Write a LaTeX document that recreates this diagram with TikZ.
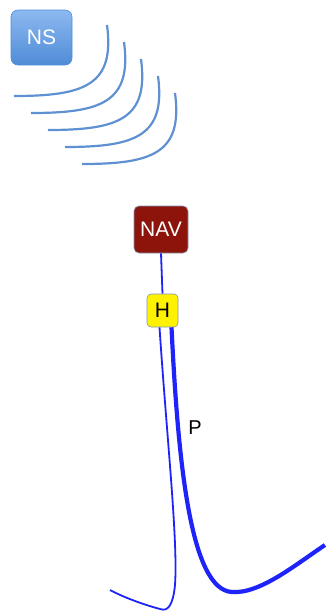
\documentclass[tikz,border=0pt]{standalone}
\usepackage{fontspec}
\setmainfont{Liberation Sans}
\definecolor{wavecol}{RGB}{95,145,210}
\definecolor{nstop}{RGB}{140,185,240}
\definecolor{nsbot}{RGB}{80,140,215}
\definecolor{navred}{RGB}{140,20,10}
\definecolor{pathblue}{RGB}{30,35,250}
\definecolor{rimcol}{RGB}{130,150,180}
\begin{document}
\begin{tikzpicture}[x=1pt,y=-1pt,
        box/.style={rounded corners=5pt, inner sep=0pt, draw=rimcol, line width=0.6pt,
            font=\fontsize{21}{21}\selectfont},
        wavearc/.style={draw=wavecol, line width=2.2pt},
        wire/.style={draw=pathblue, line width=1.8pt},
        thickwire/.style={draw=pathblue, line width=4.2pt}]
        \useasboundingbox (0,0) rectangle (325,611);
        % Station and its waves
        \node[box, rounded corners=7pt, draw=nsbot, top color=nstop, bottom color=nsbot,
            text=white, minimum width=61pt, minimum height=55pt] (ns) at (41.5,37.5) {NS};
        \foreach \i in {0,...,4}
            \draw[wavearc, shift={(17*\i,17*\i)}] (14,96) .. controls (85,96) and (115,85) .. (107,25);
        % Nav and H
        \node[box, fill=navred, text=white, minimum width=54pt, minimum height=47pt] (nav) at (161,229.5) {NAV};
        \node[box, rounded corners=4pt, fill=yellow, text=black, minimum width=31pt, minimum height=33pt] (h) at (162.5,310.5) {H};
        \node[font=\fontsize{20}{20}\selectfont] (p) at (195,428) {P};
        \coordinate (thinend) at (110,590);
        \coordinate (thickend) at (325,545);
        % Paths
        \draw[wire] (nav.south) -- (h.north);
        \draw[wire] ([xshift=-3pt]h.south) .. controls (167,440) and (178,540) .. (175,585)
            .. controls (173,605) and (168,612) .. (160,609)
            .. controls (145,605) and (125,598) .. (thinend);
        \draw[thickwire] ([xshift=9pt]h.south) .. controls (178,460) and (190,590) .. (232,592)
            .. controls (260,594) and (295,565) .. (thickend);
\end{tikzpicture}
\end{document}
